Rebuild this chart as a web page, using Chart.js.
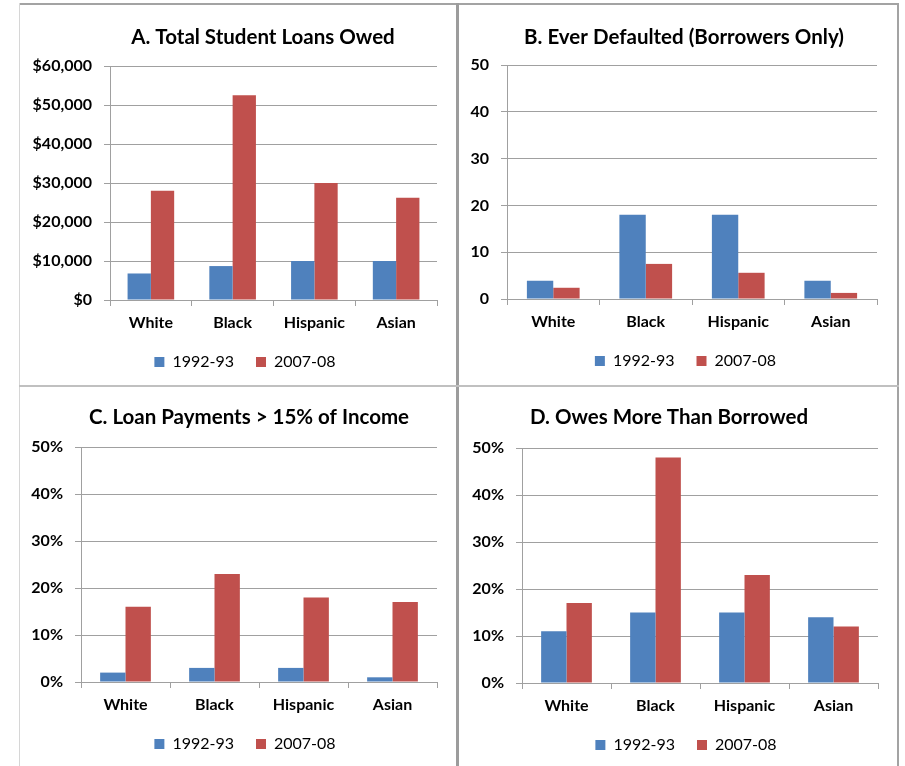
<!DOCTYPE html>
<html>
<head>
<meta charset="utf-8">
<script src="https://cdn.jsdelivr.net/npm/chart.js@4.4.0/dist/chart.umd.min.js"></script>
<style>
  html, body { margin: 0; padding: 0; background: #ffffff; }
  body { width: 905px; height: 766px; position: relative; overflow: hidden; }
  .line { position: absolute; }
  .panel { position: absolute; }
</style>
</head>
<body>
<div class="line" style="left:19px;top:3px;width:880px;height:2px;background:#a3a3a3"></div>
<div class="line" style="left:19px;top:3px;width:1px;height:763px;background:#d6d6d6"></div>
<div class="line" style="left:456px;top:3px;width:3px;height:763px;background:#9c9c9c"></div>
<div class="line" style="left:897px;top:3px;width:2px;height:763px;background:#a3a3a3"></div>
<div class="line" style="left:19px;top:385px;width:880px;height:2px;background:#c0c0c0"></div>

<div class="panel" id="pA" style="left:21px;top:6px;width:434px;height:377px"><canvas id="cA"></canvas></div>
<div class="panel" id="pB" style="left:460px;top:6px;width:436px;height:377px"><canvas id="cB"></canvas></div>
<div class="panel" id="pC" style="left:21px;top:388px;width:434px;height:378px"><canvas id="cC"></canvas></div>
<div class="panel" id="pD" style="left:460px;top:388px;width:436px;height:378px"><canvas id="cD"></canvas></div>

<script>
// ---- Data ----
const categories = ['White', 'Black', 'Hispanic', 'Asian'];
const seriesLabels = ['1992-93', '2007-08'];

const loansOwed_1992 = [6800, 8700, 10000, 10000];
const loansOwed_2007 = [28000, 52500, 30000, 26200];

const everDefaulted_1992 = [3.9, 18, 18, 3.9];
const everDefaulted_2007 = [2.4, 7.5, 5.6, 1.3];

const paymentsOver15_1992 = [2, 3, 3, 1];
const paymentsOver15_2007 = [16, 23, 18, 17];

const owesMore_1992 = [11, 15, 15, 14];
const owesMore_2007 = [17, 48, 23, 12];

const panelTitles = [
  'A. Total Student Loans Owed',
  'B. Ever Defaulted (Borrowers Only)',
  'C. Loan Payments > 15% of Income',
  'D. Owes More Than Borrowed'
];

const dollarTickLabels = ['$0', '$10,000', '$20,000', '$30,000', '$40,000', '$50,000', '$60,000'];
const countTickLabels = ['0', '10', '20', '30', '40', '50'];
const percentTickLabels = ['0%', '10%', '20%', '30%', '40%', '50%'];

// ---- Styling ----
const BLUE = '#4F81BD';
const RED = '#C0504D';
const GRID = '#a0a0a0';
const FONT = 'Lato, "Open Sans", sans-serif';

const panelTitlePlugin = {
  id: 'panelTitle',
  afterLayout(chart, args, opts) {
    const l = chart.legend;
    if (l && opts.legendShift) { l.left += opts.legendShift; l.right += opts.legendShift; }
  },
  afterDraw(chart, args, opts) {
    const ctx = chart.ctx;
    ctx.save();
    ctx.font = 'bold ' + opts.size + 'px ' + FONT;
    ctx.fillStyle = '#000';
    ctx.textAlign = 'center';
    ctx.textBaseline = 'middle';
    ctx.fillText(opts.text, opts.x, opts.y);
    ctx.restore();
  }
};

function makeChart(canvasId, cfg) {
  return new Chart(document.getElementById(canvasId), {
    type: 'bar',
    data: {
      labels: categories,
      datasets: [
        { label: seriesLabels[0], data: cfg.a, backgroundColor: BLUE, borderWidth: 0,
          categoryPercentage: 0.57, barPercentage: 1.0 },
        { label: seriesLabels[1], data: cfg.b, backgroundColor: RED, borderWidth: 0,
          categoryPercentage: 0.57, barPercentage: 1.0 }
      ]
    },
    options: {
      responsive: true,
      maintainAspectRatio: false,
      animation: false,
      devicePixelRatio: 1,
      layout: { padding: { left: 0, right: cfg.padRight, top: cfg.padTop, bottom: cfg.padBottom } },
      plugins: {
        title: { display: false },
        tooltip: { enabled: false },
        legend: {
          position: 'bottom',
          labels: {
            boxWidth: 10, boxHeight: 10, padding: 22,
            color: '#000',
            font: { family: FONT, size: 16, weight: 'normal' }
          }
        },
        panelTitle: { text: cfg.title, x: cfg.titleX, y: cfg.titleY, size: 20.5, legendShift: cfg.legendShift }
      },
      scales: {
        x: {
          grid: { display: true, drawOnChartArea: false, drawTicks: true, tickLength: 6, color: GRID, offset: true },
          border: { display: true, color: GRID, width: 1 },
          ticks: { color: '#000', padding: 7, font: { family: FONT, size: 16, weight: 'bold' } },
          afterFit: (s) => { s.height = 32; }
        },
        y: {
          min: 0, max: cfg.max,
          grid: { color: GRID, drawTicks: true, tickLength: 6, lineWidth: 1 },
          border: { display: true, color: GRID, width: 1 },
          ticks: {
            stepSize: cfg.step, color: '#000', padding: 12,
            font: { family: FONT, size: 16, weight: 'bold' },
            callback: (v, i) => cfg.tickLabels[i]
          },
          afterFit: (s) => { s.width = cfg.yWidth; }
        }
      }
    },
    plugins: [panelTitlePlugin]
  });
}

makeChart('cA', { a: loansOwed_1992, b: loansOwed_2007, max: 60000, step: 10000, tickLabels: dollarTickLabels,
  title: panelTitles[0], titleX: 242, titleY: 31, yWidth: 89, padRight: 18, padTop: 60, padBottom: 3, legendShift: 16 });
makeChart('cB', { a: everDefaulted_1992, b: everDefaulted_2007, max: 50, step: 10, tickLabels: countTickLabels,
  title: panelTitles[1], titleX: 224, titleY: 31, yWidth: 47, padRight: 19, padTop: 59, padBottom: 4, legendShift: 17 });
makeChart('cC', { a: paymentsOver15_1992, b: paymentsOver15_2007, max: 50, step: 10, tickLabels: percentTickLabels,
  title: panelTitles[2], titleX: 228, titleY: 29, yWidth: 60, padRight: 18, padTop: 59, padBottom: 4, legendShift: 16 });
makeChart('cD', { a: owesMore_1992, b: owesMore_2007, max: 50, step: 10, tickLabels: percentTickLabels,
  title: panelTitles[3], titleX: 209, titleY: 29, yWidth: 62, padRight: 18, padTop: 60, padBottom: 3, legendShift: 17 });
</script>
</body>
</html>
